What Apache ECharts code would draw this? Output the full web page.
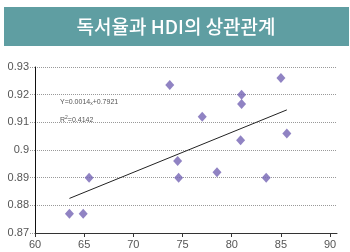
<!DOCTYPE html>
<html>
<head>
<meta charset="utf-8">
<script src="https://cdn.jsdelivr.net/npm/echarts@6/dist/echarts.min.js"></script>
<style>
  html, body { margin: 0; padding: 0; background: #fff; }
  #chart { width: 350px; height: 252px; }
</style>
</head>
<body>
<div id="chart"></div>
<script>
// 독서율 (x) vs HDI (y)
const readingRate = [63.5, 64.9, 65.5, 73.7, 74.5, 74.6, 77.0, 78.5, 81.0, 81.0, 80.9, 85.0, 85.6, 83.5]
const hdi = [0.877, 0.877, 0.890, 0.9235, 0.896, 0.890, 0.912, 0.892, 0.920, 0.9166, 0.9035, 0.926, 0.906, 0.890]
const trendX = [63.5, 85.6]
const trendY = [0.8825, 0.9145]
const xTicks = [60, 65, 70, 75, 80, 85, 90]

const chart = echarts.init(document.getElementById('chart'))
const labelFont = '"Liberation Sans Narrow", "Liberation Sans", Arial, sans-serif'

const option = {
  animation: false,
  textStyle: { fontFamily: labelFont },
  graphic: [
    {
      type: 'rect',
      shape: { x: 4, y: 7, width: 345, height: 39 },
      style: { fill: '#5f9ea2' }
    },
    {
      type: 'text',
      x: 176,
      y: 27,
      style: {
        text: '독서율과 HDI의 상관관계',
        fill: '#fff',
        font: '500 19px "Noto Sans CJK KR", sans-serif',
        align: 'center',
        verticalAlign: 'middle'
      }
    },
    {
      type: 'text',
      x: 60,
      y: 102,
      style: {
        text: '{a|Y=0.0014}{s|x}{a|+0.7921}',
        verticalAlign: 'middle',
        rich: {
          a: { fontSize: 7, fill: '#555', fontFamily: labelFont },
          s: { fontSize: 5, fill: '#555', fontFamily: labelFont, padding: [4, 0, 0, 0] }
        }
      }
    },
    {
      type: 'text',
      x: 60,
      y: 120,
      style: {
        text: '{a|R}{p|2}{a|=0.4142}',
        verticalAlign: 'middle',
        rich: {
          a: { fontSize: 7, fill: '#555', fontFamily: labelFont },
          p: { fontSize: 5, fill: '#555', fontFamily: labelFont, padding: [0, 0, 4, 0] }
        }
      }
    }
  ],
  grid: {
    left: 35,
    right: 13,
    top: 67,
    bottom: 19
  },
  xAxis: {
    type: 'value',
    min: 60,
    max: 90.7,
    interval: 5,
    axisLine: { lineStyle: { color: '#333', width: 1 } },
    axisTick: { show: true, customValues: xTicks, length: 4, lineStyle: { color: '#333' } },
    axisLabel: {
      customValues: xTicks,
      color: '#555',
      fontSize: 11,
      margin: 6,
      fontFamily: labelFont
    },
    splitLine: { show: false }
  },
  yAxis: {
    type: 'value',
    min: 0.87,
    max: 0.93,
    interval: 0.01,
    axisLine: { show: true, lineStyle: { color: '#111', width: 1 } },
    axisTick: { show: true, length: 5, lineStyle: { color: '#999', type: 'dotted' } },
    axisLabel: {
      color: '#555',
      fontSize: 11,
      margin: 6,
      fontFamily: labelFont,
      formatter: v => String(+v.toFixed(2))
    },
    splitLine: { lineStyle: { color: '#999', type: 'dotted', width: 1 } }
  },
  series: [
    {
      type: 'line',
      data: trendX.map((x, i) => [x, trendY[i]]),
      symbol: 'none',
      lineStyle: { color: '#222', width: 1 },
      z: 2
    },
    {
      type: 'scatter',
      data: readingRate.map((x, i) => [x, hdi[i]]),
      symbol: 'diamond',
      symbolSize: [9, 10],
      itemStyle: { color: '#7464b4' },
      z: 3
    }
  ]
}

chart.setOption(option)
</script>
</body>
</html>
